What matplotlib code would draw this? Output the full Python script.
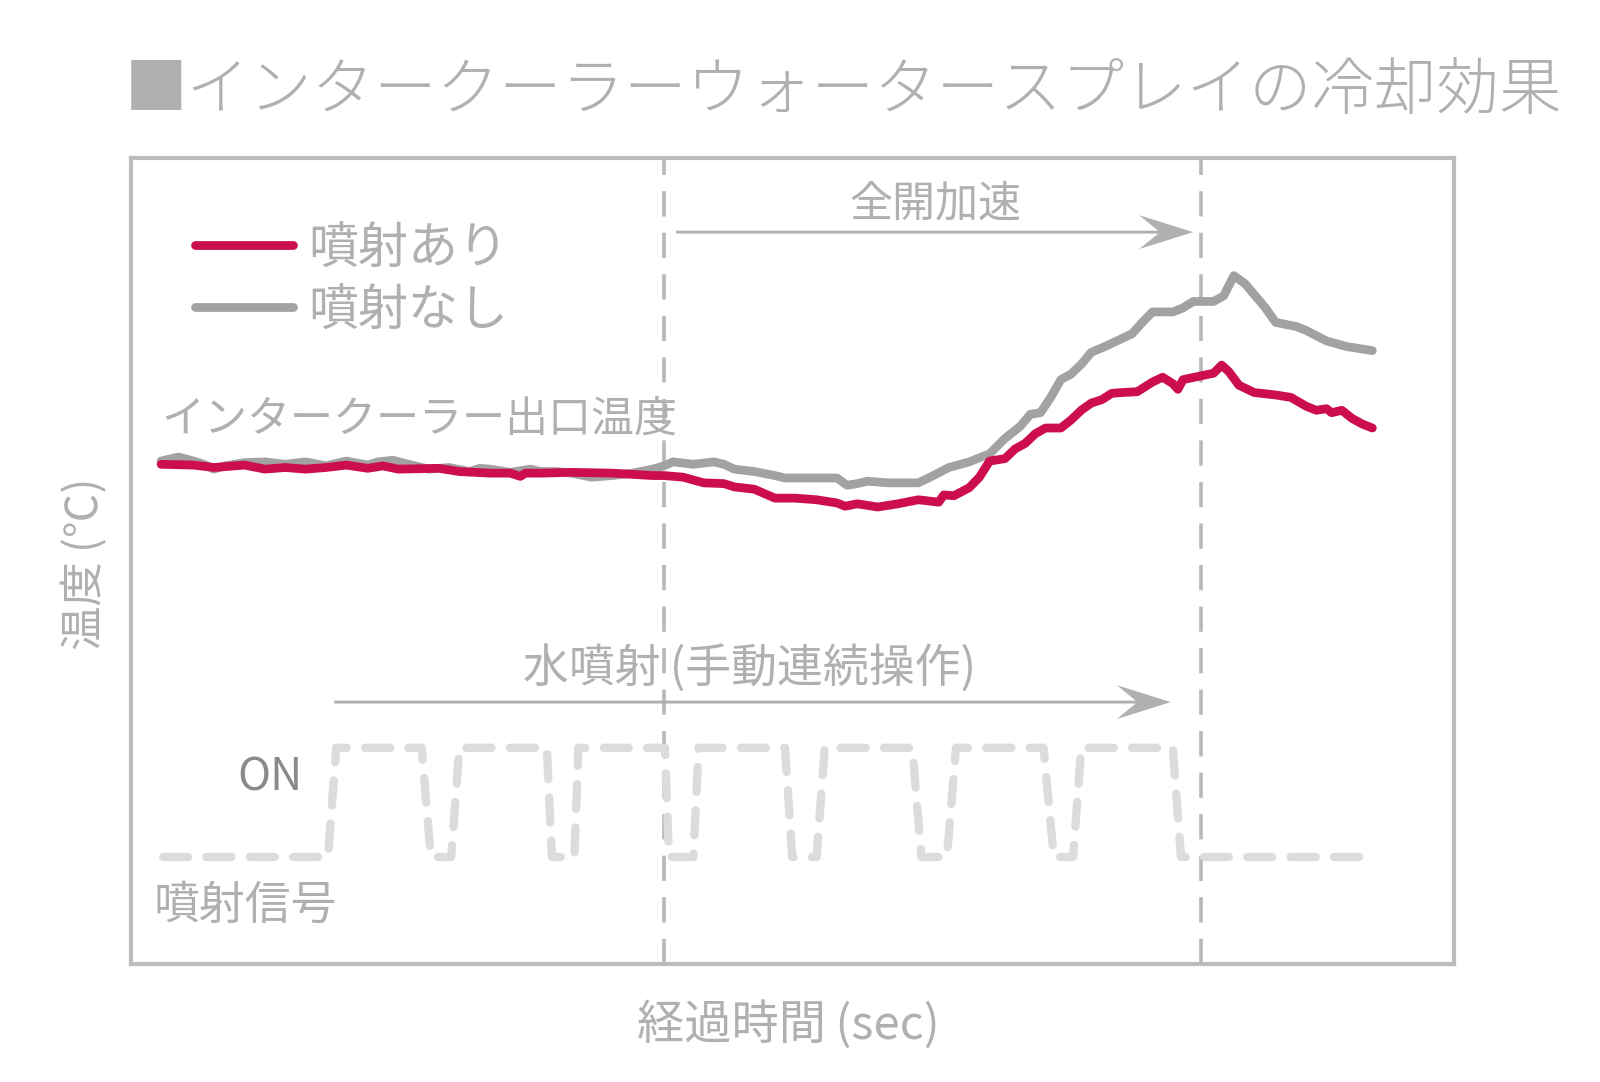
import matplotlib
matplotlib.use('Agg')
import matplotlib.pyplot as plt

plt.rcParams['font.family'] = ['Noto Sans CJK JP', 'DejaVu Sans']

# 温度データ（経過時間, 温度）
t_on = [3.0, 6.2, 8.2, 11.2, 13.2, 15.2, 17.2, 19.2, 21.2, 23.3, 24.8, 26.3, 30.3, 32.3,
        35.3, 37.3, 38.3, 38.8, 40.3, 43.3, 47.3, 51.3, 52.4, 54.3, 56.3, 58.3, 59.3,
        61.3, 63.3, 65.3, 67.4, 69.4, 70.2, 71.4, 73.4, 75.4, 77.4, 79.4, 79.9, 80.9,
        82.4, 83.4, 84.4, 85.9, 86.9, 87.9, 88.9, 89.9, 91.4, 92.4, 93.4, 94.4, 95.4,
        96.4, 97.4, 98.9, 100.4, 101.4, 102.4, 102.9, 103.4, 104.9, 106.4, 107.2,
        107.9, 108.9, 110.4, 112.5, 114.0, 115.5, 116.5, 117.5, 118.0, 119.0, 120.0,
        121.0, 122.0]
temp_on = [62.0, 61.9, 61.6, 61.9, 61.4, 61.6, 61.4, 61.6, 61.9, 61.5, 61.8, 61.4, 61.5,
           61.1, 60.9, 60.9, 60.5, 60.9, 60.9, 61.0, 60.9, 60.6, 60.6, 60.4, 59.7, 59.6,
           59.2, 58.9, 57.8, 57.8, 57.6, 57.2, 56.8, 57.1, 56.7, 57.1, 57.6, 57.3, 58.2,
           58.1, 59.1, 60.4, 62.4, 62.7, 63.9, 64.6, 65.8, 66.5, 66.5, 67.5, 68.7, 69.6,
           70.0, 70.8, 70.9, 71.0, 72.2, 72.8, 72.0, 71.3, 72.5, 72.9, 73.3, 74.3, 73.5,
           71.8, 70.9, 70.6, 70.3, 69.2, 68.7, 68.9, 68.4, 68.7, 67.7, 67.0, 66.5]

t_off = [3.0, 4.7, 6.2, 7.2, 8.2, 9.2, 11.2, 13.2, 15.2, 17.2, 19.2, 21.2, 23.3, 24.3,
         25.8, 27.3, 29.3, 31.3, 33.3, 34.3, 35.3, 37.3, 39.3, 40.3, 41.8, 43.3, 45.3,
         47.3, 49.3, 51.3, 52.4, 53.3, 55.3, 57.3, 58.3, 59.3, 61.3, 63.3, 64.3, 67.4,
         69.4, 70.4, 71.4, 72.4, 74.4, 77.4, 78.4, 80.4, 82.4, 84.4, 85.9, 87.4, 88.4,
         89.4, 90.4, 91.4, 92.4, 93.4, 94.4, 95.9, 98.4, 99.4, 100.4, 102.4, 103.4,
         104.4, 106.4, 107.4, 108.4, 109.5, 111.5, 112.5, 114.5, 115.5, 117.5, 119.5,
         122.0]
temp_off = [62.4, 62.9, 62.4, 62.0, 61.4, 61.8, 62.2, 62.3, 62.0, 62.3, 61.8, 62.4, 61.9,
            62.3, 62.5, 62.0, 61.4, 61.6, 61.1, 61.5, 61.4, 61.0, 61.4, 61.1, 61.1, 60.9,
            60.4, 60.6, 60.9, 61.4, 61.8, 62.3, 62.0, 62.3, 62.0, 61.4, 61.1, 60.6, 60.3,
            60.3, 60.3, 59.4, 59.6, 59.9, 59.7, 59.7, 60.3, 61.6, 62.3, 63.3, 65.2, 66.7,
            68.2, 68.4, 70.3, 72.5, 73.2, 74.4, 75.9, 76.7, 78.2, 79.6, 80.9, 80.9, 81.4,
            82.2, 82.2, 82.9, 85.4, 84.4, 81.4, 79.6, 79.1, 78.6, 77.3, 76.6, 76.1]

# 噴射信号（0=OFF, 1=ON）
sig_t = [3.2, 19.4, 20.2, 28.6, 29.5, 31.5, 32.3, 40.9, 41.4, 43.6, 44.0, 52.5, 52.9,
         55.3, 55.8, 64.3, 65.0, 67.4, 68.2, 76.8, 77.7, 80.2, 81.1, 89.7, 90.7, 92.6,
         93.4, 102.4, 103.2, 122.2]
sig_v = [0, 0, 1, 1, 0, 0, 1, 1, 0, 0, 1, 1, 0, 0, 1, 1, 0, 0, 1, 1, 0, 0, 1, 1, 0, 0,
         1, 1, 0, 0]

t_full = 52.4      # 全開加速 開始
t_end = 105.2      # 全開加速 終了
# 矢印（開始, 終了, 高さ）
arrow_full = (53.6, 104.4, 90.8)
arrow_spray = (20.0, 102.2, 32.5)

red = '#cc0f4c'
gray = '#a2a2a2'
txt = '#b0b0b0'

fig = plt.figure(figsize=(16, 10.82), dpi=100)
ax = fig.add_axes([0.0816, 0.109, 0.827, 0.745])
ax.set_xlim(0, 130)
ax.set_ylim(0, 100)

ln_on, = ax.plot(t_on, temp_on, color=red, lw=6.3, solid_capstyle='round',
                 solid_joinstyle='round', zorder=4, label='噴射あり')
ln_off, = ax.plot(t_off, temp_off, color=gray, lw=6.3, solid_capstyle='round',
                  solid_joinstyle='round', zorder=3, label='噴射なし')

for x in [t_full, t_end]:
    ax.axvline(x, color='#b8b8b8', lw=2.6, ls=(0, (7, 4.5)), zorder=1)

# 信号は別の軸に
ax2 = ax.twinx()
ax2.set_ylim(-0.98, 6.40)
ax2.plot(sig_t, sig_v, color='#dcdcdc', lw=6.0, ls=(0, (3.0, 2.2)),
         dash_capstyle='round', dash_joinstyle='round', zorder=2)
ax2.axis('off')

ax.set_xticks([])
ax.set_yticks([])
for s in ax.spines.values():
    s.set_color('#bcbcbc')
    s.set_linewidth(3)

# 矢印（先端が燕尾形）
for x0, x1, y in [arrow_full, arrow_spray]:
    ax.arrow(x0, y, x1 - x0, 0, width=0.36, head_width=4.2, head_length=5.3,
             overhang=0.35, length_includes_head=True, color=txt, lw=0, zorder=2)

ax.text(0.608, 0.942, '全開加速', transform=ax.transAxes, ha='center', va='center',
        fontsize=31, color=txt)
ax.text(0.468, 0.367, '水噴射\u2009(手動連続操作)', transform=ax.transAxes, ha='center',
        va='center', fontsize=33, color=txt)
ax.text(0.130, 0.232, 'ON', transform=ax.transAxes, ha='right', va='center',
        fontsize=32, color='#8a8a8a')
ax.text(0.017, 0.072, '噴射信号', transform=ax.transAxes, ha='left', va='center',
        fontsize=33, color=txt)
ax.text(0.023, 0.676, 'インタークーラー出口温度', transform=ax.transAxes, ha='left',
        va='center', fontsize=31, color=txt)

leg = ax.legend(handles=[ln_on, ln_off], loc='upper left', bbox_to_anchor=(0.049, 0.92),
                frameon=False, fontsize=36, handlelength=1.95, handletextpad=0.3,
                labelspacing=0.2, borderpad=0, borderaxespad=0)
for t in leg.get_texts():
    t.set_color(txt)

ax.text(0.497, -0.076, '経過時間\u2009(sec)', transform=ax.transAxes,
        ha='center', va='center', fontsize=34, color=txt)
ax.text(-0.0347, 0.497, '温度\u2009(℃)', transform=ax.transAxes, ha='center',
        va='center', rotation=90, fontsize=32, color=txt)

fig.text(0.078, 0.915, '■インタークーラーウォータースプレイの冷却効果', ha='left',
         va='center', fontsize=45, color=txt, fontweight='light')

fig.savefig('out.png', dpi=100)
